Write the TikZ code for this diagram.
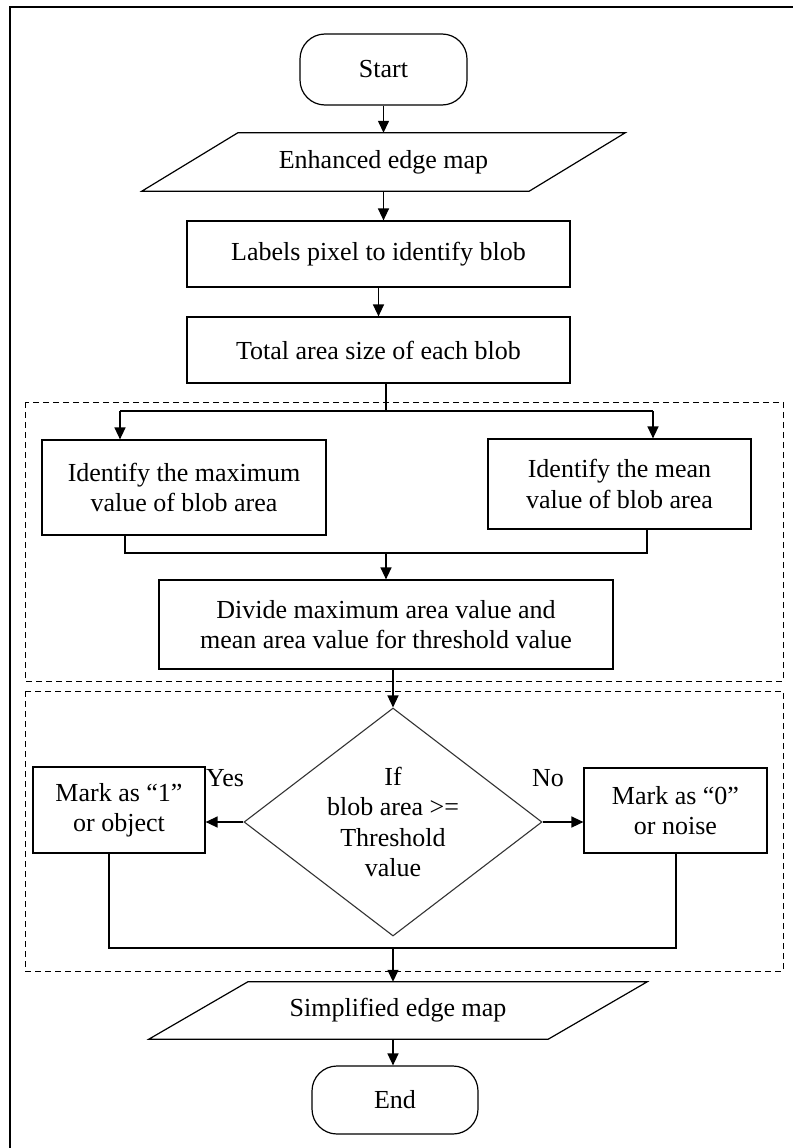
\documentclass[tikz,border=0pt]{standalone}
\usepackage{fontspec}
\setmainfont{Liberation Serif}
\usetikzlibrary{shapes.geometric,arrows.meta,calc}
\newcommand\fsz{\fontsize{26}{30.5}\selectfont}
\begin{document}
\begin{tikzpicture}[x=1pt,y=-1pt,
  box/.style={draw, line width=1.2pt, align=center, inner sep=0pt, font=\fsz},
  term/.style={box, rounded corners=25pt},
  io/.style={align=center, inner sep=0pt, font=\fsz},
  paraline/.style={line width=1.2pt},
  arr/.style={line width=1.4pt, -{Triangle[length=12pt,width=11pt]}},
  ln/.style={line width=1.4pt},
  grp/.style={draw, line width=1pt, dash pattern=on 6pt off 4pt},
  lbl/.style={font=\fsz, inner sep=0pt}
]
\useasboundingbox[fill=white] (0,0) rectangle (793,1148);
\draw[line width=1.8pt] (10,1148) -- (10,7) -- (793,7);

% groups
\draw[grp] (25,402) rectangle (783,681);
\draw[grp] (25,691) rectangle (783,971);

% nodes
\node[term, minimum width=167pt, minimum height=71pt] (start) at (383.5,69.5) {Start};
\node[io, minimum width=387pt, minimum height=58pt] (enh) at (383.5,162) {Enhanced edge map};
\draw[paraline] ([xshift=48pt]enh.north west) -- ([xshift=48pt]enh.north east)
  -- ([xshift=-48pt]enh.south east) -- ([xshift=-48pt]enh.south west) -- cycle;
\node[box, minimum width=383pt, minimum height=66pt] (lab) at (378.5,254) {Labels pixel to identify blob};
\node[box, minimum width=383pt, minimum height=66pt] (tot) at (378.5,350) {Total area size of each blob};
\node[box, minimum width=284pt, minimum height=95pt] (mx) at (184,487.5) {Identify the maximum\\value of blob area};
\node[box, minimum width=263pt, minimum height=90pt] (mn) at (619.5,484) {Identify the mean\\value of blob area};
\node[box, minimum width=454pt, minimum height=89pt] (div) at (386,624.5) {Divide maximum area value and\\mean area value for threshold value};
\node[diamond, draw=black!80, line width=1.1pt, minimum width=298pt, minimum height=228pt, aspect=1.307, inner sep=0pt, align=center, font=\fsz] (dec) at (393,822) {If\\blob area >=\\Threshold\\value};
\node[box, minimum width=172pt, minimum height=86pt] (yb) at (119,810) {Mark as “1”\\or object};
\node[box, minimum width=183pt, minimum height=85pt] (nb) at (675.5,810.5) {Mark as “0”\\or noise};
\node[lbl] (yes) at (225,778) {Yes};
\node[lbl] (no) at (548,778) {No};
\node[io, minimum width=399pt, minimum height=57pt] (simp) at (398,1010.5) {Simplified edge map};
\draw[paraline] ([xshift=49.5pt]simp.north west) -- ([xshift=49.5pt]simp.north east)
  -- ([xshift=-49.5pt]simp.south east) -- ([xshift=-49.5pt]simp.south west) -- cycle;
\node[term, minimum width=166pt, minimum height=68pt] (end) at (395,1100) {End};

% coordinates for junctions
\coordinate (sp) at (386,411);
\coordinate (spl) at (120,411);
\coordinate (spr) at (653,411);
\coordinate (mg) at (386,553);
\coordinate (jn) at (393,948);

% connectors
\draw[arr] (start.south) -- (enh.north);
\draw[arr] (enh.south) -- (enh.south |- lab.north);
\draw[arr] (lab.south) -- (tot.north);
\draw[ln] (tot.south -| sp) -- (sp);
\draw[ln] (spl) -- (spr);
\draw[arr] (spl) -- (spl |- mx.north);
\draw[arr] (spr) -- (spr |- mn.north);
\draw[ln] ([xshift=-59pt]mx.south) |- (mg) -| ([xshift=27.5pt]mn.south);
\draw[arr] (mg) -- (div.north);
\draw[arr] (div.south -| dec.north) -- (dec.north);
\draw[arr] (dec.west) -- (dec.west -| yb.east);
\draw[arr] (dec.east) -- (dec.east -| nb.west);
\draw[ln] ([xshift=-10pt]yb.south) |- (jn) -| ([xshift=0.5pt]nb.south);
\draw[arr] (jn) -- (jn |- simp.north);
\draw[arr] (jn |- simp.south) -- (jn |- end.north);
\end{tikzpicture}
\end{document}
